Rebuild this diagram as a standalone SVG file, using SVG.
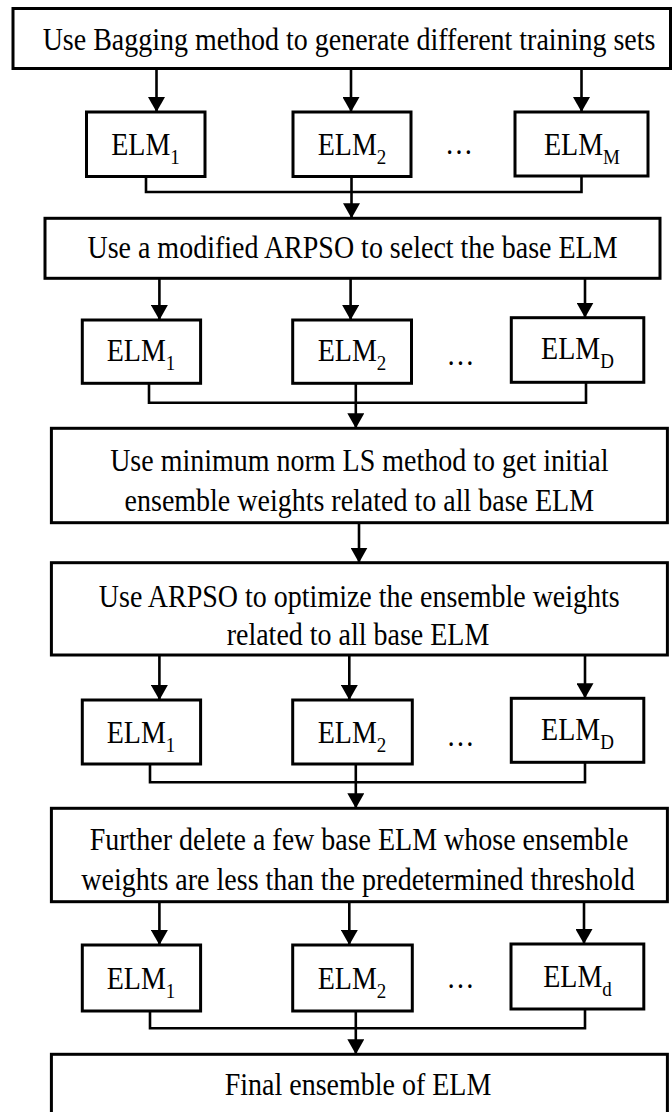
<svg xmlns="http://www.w3.org/2000/svg" width="672" height="1112" viewBox="0 0 672 1112">
<defs>
<style>
.box{fill:#fff;stroke:#000;stroke-width:3}
.t{font-family:"Liberation Serif","Times New Roman",serif;font-size:28px;fill:#000;text-anchor:middle}
.sub{font-size:19px}
.c{fill:none;stroke:#000;stroke-width:2.6}
.ca{fill:none;stroke:#000;stroke-width:2.6;marker-end:url(#ah)}
</style>
<marker id="ah" viewBox="0 0 15 17" refX="15" refY="8.5" markerWidth="15" markerHeight="17" markerUnits="userSpaceOnUse" orient="auto">
<path d="M0,0 L15,8.5 L0,17 z" fill="#000"/>
</marker>
</defs>
<rect x="0" y="0" width="672" height="1112" fill="#fff"/>

<g id="connectors">
<line class="ca" x1="156.5" y1="68.5" x2="156.5" y2="112"/>
<line class="ca" x1="351" y1="68.5" x2="351" y2="112"/>
<line class="ca" x1="581.5" y1="68.5" x2="581.5" y2="112"/>
<path class="c" d="M146,176.5 V192 H581.5 V176"/>
<line class="ca" x1="351.5" y1="176.5" x2="351.5" y2="218.3"/>
<line class="ca" x1="159.4" y1="278.3" x2="159.4" y2="320"/>
<line class="ca" x1="350.6" y1="278.3" x2="350.6" y2="320"/>
<line class="ca" x1="585" y1="278.3" x2="585" y2="317.7"/>
<path class="c" d="M149,383.3 V402.7 H586 V382.3"/>
<line class="ca" x1="355.8" y1="383.3" x2="355.8" y2="428.3"/>
<line class="ca" x1="359" y1="522.7" x2="359" y2="562.7"/>
<line class="ca" x1="159.4" y1="655" x2="159.4" y2="700"/>
<line class="ca" x1="349.3" y1="655" x2="349.3" y2="700"/>
<line class="ca" x1="585" y1="655" x2="585" y2="698.3"/>
<path class="c" d="M150,764 V782.3 H585 V762.3"/>
<line class="ca" x1="355.8" y1="764" x2="355.8" y2="808.3"/>
<line class="ca" x1="159.4" y1="901.7" x2="159.4" y2="945"/>
<line class="ca" x1="349.3" y1="901.7" x2="349.3" y2="945"/>
<line class="ca" x1="584" y1="901.7" x2="584" y2="944"/>
<path class="c" d="M150,1011 V1028.3 H585 V1009"/>
<line class="ca" x1="355.8" y1="1011" x2="355.8" y2="1054.3"/>
</g>

<g id="bagging">
<rect class="box" x="13" y="8.5" width="657.5" height="60"/>
<text class="t" transform="translate(349,50) scale(1,1.1)">Use Bagging method to generate different training sets</text>
</g>

<g id="row1-elm1"><rect class="box" x="86.5" y="112" width="118.5" height="64.5"/><text class="t" transform="translate(145.5,155) scale(1,1.1)">ELM<tspan class="sub" dy="8">1</tspan></text></g>
<g id="row1-elm2"><rect class="box" x="293" y="112" width="118" height="64.5"/><text class="t" transform="translate(352,155) scale(1,1.1)">ELM<tspan class="sub" dy="8">2</tspan></text></g>
<g id="row1-dots"><text class="t" transform="translate(459,154) scale(1,1.1)">…</text></g>
<g id="row1-elmM"><rect class="box" x="515" y="112" width="133" height="64"/><text class="t" transform="translate(582,155) scale(1,1.1)">ELM<tspan class="sub" dy="8">M</tspan></text></g>

<g id="arpso-select">
<rect class="box" x="45" y="218.3" width="615" height="60"/>
<text class="t" transform="translate(352.5,258) scale(1,1.1)">Use a modified ARPSO to select the base ELM</text>
</g>

<g id="row2-elm1"><rect class="box" x="82.3" y="320" width="118.3" height="63.3"/><text class="t" transform="translate(141,361) scale(1,1.1)">ELM<tspan class="sub" dy="8">1</tspan></text></g>
<g id="row2-elm2"><rect class="box" x="292.7" y="320" width="118.8" height="63.3"/><text class="t" transform="translate(352,361) scale(1,1.1)">ELM<tspan class="sub" dy="8">2</tspan></text></g>
<g id="row2-dots"><text class="t" transform="translate(460.5,365) scale(1,1.1)">…</text></g>
<g id="row2-elmD"><rect class="box" x="511.3" y="317.7" width="132.5" height="64.6"/><text class="t" transform="translate(577.5,359) scale(1,1.1)">ELM<tspan class="sub" dy="8">D</tspan></text></g>

<g id="min-norm-ls">
<rect class="box" x="51.4" y="428.3" width="616" height="94.4"/>
<text class="t" transform="translate(359.3,470.7) scale(1,1.1)">Use minimum norm LS method to get initial</text>
<text class="t" transform="translate(359.3,510.7) scale(1,1.1)">ensemble weights related to all base ELM</text>
</g>

<g id="arpso-optimize">
<rect class="box" x="51.4" y="562.7" width="616" height="92.3"/>
<text class="t" transform="translate(359.3,606.7) scale(1,1.1)">Use ARPSO to optimize the ensemble weights</text>
<text class="t" transform="translate(358,645) scale(1,1.1)">related to all base ELM</text>
</g>

<g id="row3-elm1"><rect class="box" x="82.3" y="700" width="118.3" height="64"/><text class="t" transform="translate(141,743) scale(1,1.1)">ELM<tspan class="sub" dy="8">1</tspan></text></g>
<g id="row3-elm2"><rect class="box" x="292.7" y="700" width="119.6" height="64"/><text class="t" transform="translate(352,743) scale(1,1.1)">ELM<tspan class="sub" dy="8">2</tspan></text></g>
<g id="row3-dots"><text class="t" transform="translate(460.5,746) scale(1,1.1)">…</text></g>
<g id="row3-elmD"><rect class="box" x="511.3" y="698.3" width="132.5" height="64"/><text class="t" transform="translate(577.5,740) scale(1,1.1)">ELM<tspan class="sub" dy="8">D</tspan></text></g>

<g id="further-delete">
<rect class="box" x="51.4" y="808.3" width="616" height="93.4"/>
<text class="t" transform="translate(359,850) scale(1,1.1)">Further delete a few base ELM whose ensemble</text>
<text class="t" transform="translate(358,890) scale(1,1.1)">weights are less than the predetermined threshold</text>
</g>

<g id="row4-elm1"><rect class="box" x="82.3" y="945" width="118.3" height="66"/><text class="t" transform="translate(141,989) scale(1,1.1)">ELM<tspan class="sub" dy="8">1</tspan></text></g>
<g id="row4-elm2"><rect class="box" x="292.7" y="945" width="119.6" height="66"/><text class="t" transform="translate(352,989) scale(1,1.1)">ELM<tspan class="sub" dy="8">2</tspan></text></g>
<g id="row4-dots"><text class="t" transform="translate(460.5,988) scale(1,1.1)">…</text></g>
<g id="row4-elmd"><rect class="box" x="511" y="944" width="132.8" height="65"/><text class="t" transform="translate(577.5,987) scale(1,1.1)">ELM<tspan class="sub" dy="8">d</tspan></text></g>

<g id="final-ensemble">
<rect class="box" x="51.4" y="1054.3" width="616" height="70"/>
<text class="t" transform="translate(358,1095) scale(1,1.1)">Final ensemble of ELM</text>
</g>
</svg>
